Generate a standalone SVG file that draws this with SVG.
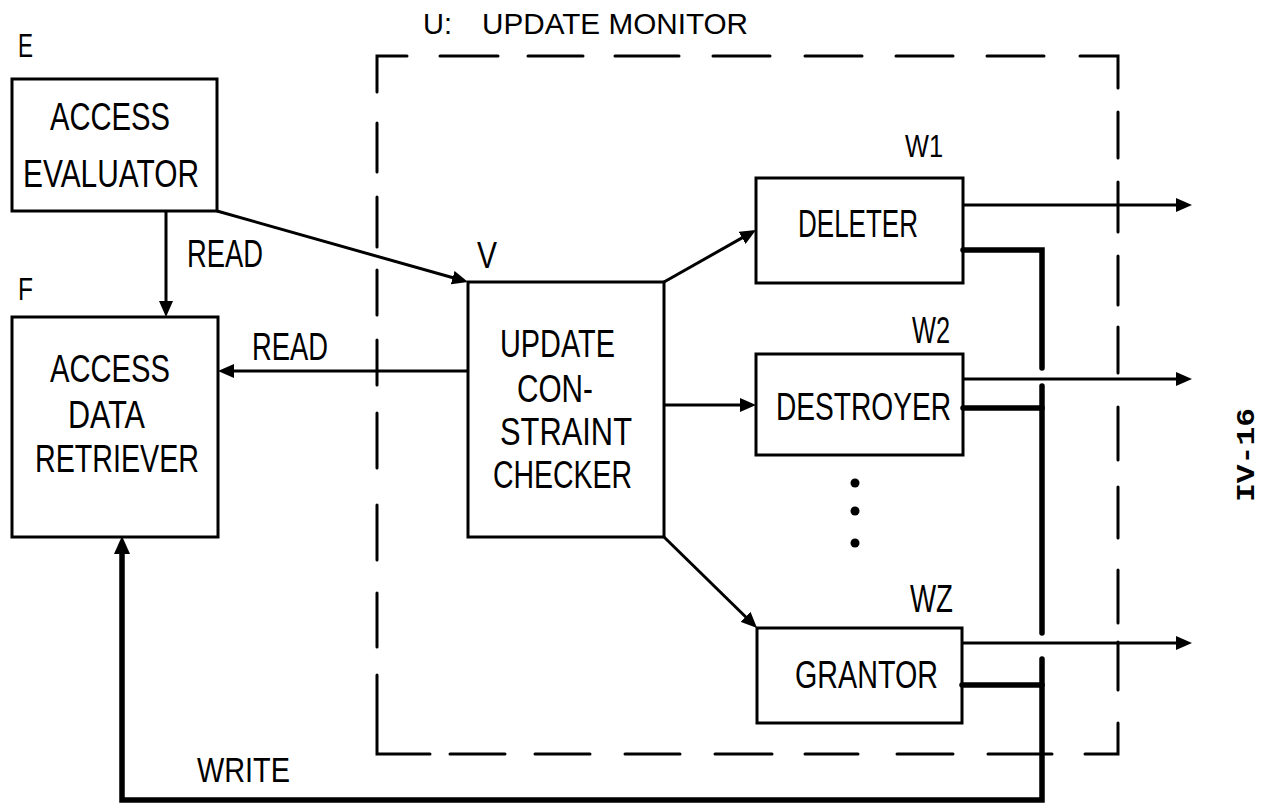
<svg xmlns="http://www.w3.org/2000/svg" width="1262" height="806" viewBox="0 0 1262 806">
<style>
.box{fill:#fff;stroke:#000;stroke-width:3}
.t{font-family:"Liberation Sans",Arial,sans-serif;fill:#000}
.ln{fill:none;stroke:#000;stroke-width:3}
.arr{fill:none;stroke:#000;stroke-width:3;marker-end:url(#ah)}
.bus{fill:none;stroke:#000;stroke-width:5.5;stroke-linecap:round;stroke-linejoin:miter}
.dash{fill:none;stroke:#000;stroke-width:3;stroke-linecap:round}
</style>
<defs>
<marker id="ah" markerUnits="userSpaceOnUse" markerWidth="16" markerHeight="14" refX="6" refY="7" orient="auto">
<path d="M0,0 L16,7 L0,14 z" fill="#000"/>
</marker>
<marker id="ahb" markerUnits="userSpaceOnUse" markerWidth="18" markerHeight="16" refX="6" refY="8" orient="auto">
<path d="M0,0 L18,8 L0,16 z" fill="#000"/>
</marker>
</defs>
<rect width="1262" height="806" fill="#fff"/>

<g id="monitor">
<path class="dash" d="M377,92 L377,56 L407,56 M440,56 L498,56 M528,56 L583,56 M615,56 L679,56 M713,56 L770,56 M805,56 L862,56 M896,56 L953,56 M987,56 L1044,56 M1080,56 L1118,56 L1118,88 M1118,112 L1118,158 M1118,182 L1118,232 M1118,256 L1118,305 M1118,327 L1118,373 M1118,407 L1118,460 M1118,487 L1118,538 M1118,570 L1118,623 M1118,642 L1118,690 M1118,723 L1118,754 L1085,754 M1052,754 L988,754 M953,754 L897,754 M858,754 L805,754 M772,754 L715,754 M680,754 L625,754 M590,754 L535,754 M505,754 L450,754 M430,754 L377,754 L377,675 M377,647 L377,593 M377,560 L377,505 M377,468 L377,413 M377,385 L377,340 M377,315 L377,270 M377,247 L377,197 M377,172 L377,123"/>
<text class="t" x="423" y="34" font-size="29" textLength="29" lengthAdjust="spacingAndGlyphs">U:</text>
<text class="t" x="482" y="34" font-size="29" textLength="266" lengthAdjust="spacingAndGlyphs">UPDATE MONITOR</text>
</g>

<g id="E">
<text class="t" x="18" y="57" font-size="33" textLength="15" lengthAdjust="spacingAndGlyphs">E</text>
<rect class="box" x="12" y="79" width="205" height="132"/>
<text class="t" x="50" y="130" font-size="38" textLength="120" lengthAdjust="spacingAndGlyphs">ACCESS</text>
<text class="t" x="23" y="187" font-size="38" textLength="176" lengthAdjust="spacingAndGlyphs">EVALUATOR</text>
</g>

<g id="F">
<text class="t" x="18" y="300" font-size="32" textLength="15" lengthAdjust="spacingAndGlyphs">F</text>
<rect class="box" x="12" y="317" width="206" height="220"/>
<text class="t" x="50" y="382" font-size="38" textLength="120" lengthAdjust="spacingAndGlyphs">ACCESS</text>
<text class="t" x="68" y="428" font-size="38" textLength="77" lengthAdjust="spacingAndGlyphs">DATA</text>
<text class="t" x="35" y="472" font-size="38" textLength="164" lengthAdjust="spacingAndGlyphs">RETRIEVER</text>
</g>

<g id="V">
<text class="t" x="477" y="268" font-size="36" textLength="20" lengthAdjust="spacingAndGlyphs">V</text>
<rect class="box" x="468" y="282" width="196" height="255"/>
<text class="t" x="500" y="357" font-size="38" textLength="115" lengthAdjust="spacingAndGlyphs">UPDATE</text>
<text class="t" x="517" y="402" font-size="38" textLength="76" lengthAdjust="spacingAndGlyphs">CON-</text>
<text class="t" x="500" y="445" font-size="38" textLength="132" lengthAdjust="spacingAndGlyphs">STRAINT</text>
<text class="t" x="493" y="488" font-size="38" textLength="139" lengthAdjust="spacingAndGlyphs">CHECKER</text>
</g>

<g id="W1">
<text class="t" x="905" y="157" font-size="31" textLength="38" lengthAdjust="spacingAndGlyphs">W1</text>
<rect class="box" x="756" y="178" width="207" height="105"/>
<text class="t" x="798" y="237" font-size="38" textLength="120" lengthAdjust="spacingAndGlyphs">DELETER</text>
</g>

<g id="W2">
<text class="t" x="912" y="343" font-size="36" textLength="38" lengthAdjust="spacingAndGlyphs">W2</text>
<rect class="box" x="756" y="354" width="207" height="101"/>
<text class="t" x="776" y="420" font-size="38" textLength="175" lengthAdjust="spacingAndGlyphs">DESTROYER</text>
</g>

<g id="ellipsis">
<circle cx="855" cy="483" r="4.5" fill="#000"/>
<circle cx="855" cy="511" r="4.5" fill="#000"/>
<circle cx="855" cy="543" r="4.5" fill="#000"/>
</g>

<g id="WZ">
<text class="t" x="910" y="612" font-size="38" textLength="43" lengthAdjust="spacingAndGlyphs">WZ</text>
<rect class="box" x="757" y="628" width="205" height="95"/>
<text class="t" x="795" y="688" font-size="38" textLength="143" lengthAdjust="spacingAndGlyphs">GRANTOR</text>
</g>

<g id="connectors">
<path class="arr" d="M166,211 L166,307"/>
<path class="arr" d="M217,211 L458.4,279.3"/>
<path class="arr" d="M468,371 L228,371"/>
<path class="arr" d="M664,282 L747.3,234.9"/>
<path class="arr" d="M664,405 L746,405"/>
<path class="arr" d="M664,537 L749.9,621"/>
<path class="arr" d="M963,205 L1182,205"/>
<path class="arr" d="M963,379 L1182,379"/>
<path class="arr" d="M962,643 L1182,643"/>
<path class="bus" d="M963,250 L1042,250 L1042,368"/>
<path class="bus" d="M1042,386 L1042,633"/>
<path class="bus" d="M963,408 L1042,408"/>
<path class="bus" d="M962,685 L1042,685"/>
<path class="bus" d="M1042,659 L1042,800 L122,800 L122,548" style="marker-end:url(#ahb)"/>
</g>

<g id="labels">
<text class="t" x="187" y="267" font-size="38" textLength="76" lengthAdjust="spacingAndGlyphs">READ</text>
<text class="t" x="252" y="360" font-size="38" textLength="76" lengthAdjust="spacingAndGlyphs">READ</text>
<text class="t" x="197" y="782" font-size="35" textLength="93" lengthAdjust="spacingAndGlyphs">WRITE</text>
<text x="0" y="0" transform="translate(1254,502) rotate(-90)" font-family="'Liberation Mono','DejaVu Sans Mono',monospace" font-weight="bold" font-size="26" textLength="94" lengthAdjust="spacingAndGlyphs">IV-16</text>
</g>
</svg>
